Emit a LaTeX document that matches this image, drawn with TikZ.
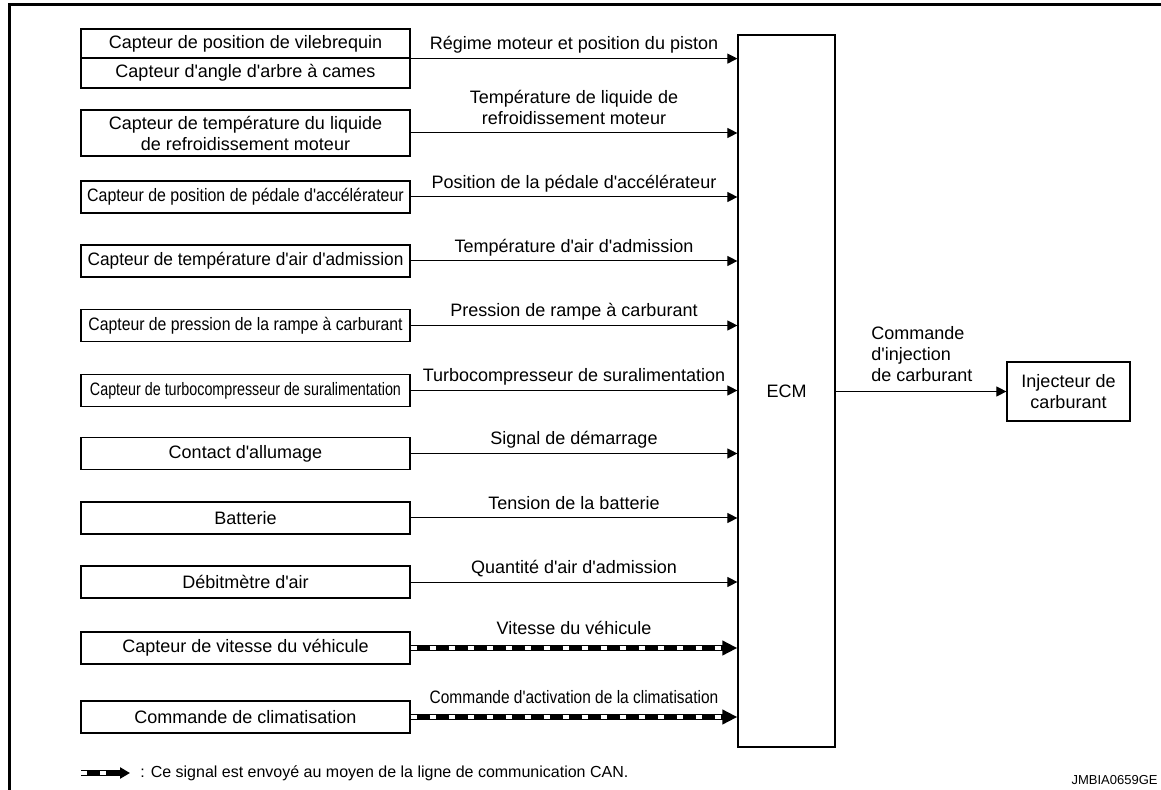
\documentclass[tikz,border=0pt]{standalone}
\usepackage{fontspec}
\setmainfont{Liberation Sans}[Ligatures=TeXOff]
\usepackage{graphicx}
\usepackage{tikz}
\usetikzlibrary{arrows.meta,positioning,calc}
\newcommand{\squeeze}[2]{\scalebox{#1}[1]{#2}}

\begin{document}
\begin{tikzpicture}[
  x=0.5pt, y=-0.5pt,
  font=\fontsize{9pt}{10.5pt}\selectfont,
  box/.style={draw, line width=0.6pt, align=center, minimum width=164.5pt, minimum height=16pt, inner sep=1pt},
  arr/.style={-{Triangle[length=5pt,width=5pt]}, line width=0.5pt},
  canbus/.style={-{Triangle[length=7.5pt,width=7pt]}, line width=3pt,
    postaction={draw, -, white, line width=1.6pt, dash pattern=on 3pt off 6.5pt, shorten >=8pt}},
  lbl/.style={above, pos=0.5, inner sep=2pt, text depth=0.22em, align=center}
]
\useasboundingbox (0,0) rectangle (1161,790);
\draw[line width=1.5pt] (1161,5) -| (9.5,790);

\node[draw, line width=0.6pt, minimum width=48.5pt, minimum height=356pt] (ecm) at (786.5,391) {ECM};
\node[draw, line width=0.6pt, align=center, minimum width=61.5pt, minimum height=29.5pt] (inj) at (1068.5,391.5) {Injecteur de\\carburant};

\node[box, minimum height=14.5pt] (ckp) at (245.5,43.5) {Capteur de position de vilebrequin};
\node[box, minimum height=15pt] (cmp) at (245.5,73) {Capteur d'angle d'arbre à cames};
\node[box, minimum height=23pt] (ect) at (245.5,133) {Capteur de température du liquide\\de refroidissement moteur};
\node[box] (app) at (245.5,197) {\squeeze{0.885}{Capteur de position de pédale d'accélérateur}};
\node[box] (iat) at (245.5,261) {\squeeze{0.96}{Capteur de température d'air d'admission}};
\node[box] (frp) at (245.5,325.5) {\squeeze{0.877}{Capteur de pression de la rampe à carburant}};
\node[box] (turbo) at (245.5,390.5) {\squeeze{0.795}{Capteur de turbocompresseur de suralimentation}};
\node[box] (ign) at (245.5,453.5) {Contact d'allumage};
\node[box] (batt) at (245.5,518) {Batterie};
\node[box] (maf) at (245.5,582) {Débitmètre d'air};
\node[box] (vss) at (245.5,648) {Capteur de vitesse du véhicule};
\node[box] (ac) at (245.5,717) {Commande de climatisation};

\draw[arr] (ckp.south east) -- (ckp.south east -| ecm.west) node[lbl] {Régime moteur et position du piston};
\draw[arr] (ect) -- (ect -| ecm.west) node[lbl] {Température de liquide de\\refroidissement moteur};
\draw[arr] (app) -- (app -| ecm.west) node[lbl] {Position de la pédale d'accélérateur};
\draw[arr] (iat) -- (iat -| ecm.west) node[lbl] {Température d'air d'admission};
\draw[arr] (frp) -- (frp -| ecm.west) node[lbl] {Pression de rampe à carburant};
\draw[arr] (turbo) -- (turbo -| ecm.west) node[lbl] {Turbocompresseur de suralimentation};
\draw[arr] (ign) -- (ign -| ecm.west) node[lbl] {Signal de démarrage};
\draw[arr] (batt) -- (batt -| ecm.west) node[lbl] {Tension de la batterie};
\draw[arr] (maf) -- (maf -| ecm.west) node[lbl] {Quantité d'air d'admission};
\draw[canbus] (vss) -- (vss -| ecm.west) node[lbl, inner sep=3pt] {Vitesse du véhicule};
\draw[canbus] (ac) -- (ac -| ecm.west) node[lbl, inner sep=3pt] {\squeeze{0.86}{Commande d'activation de la climatisation}};

\draw[arr] (ecm.east |- inj) -- (inj);
\node[anchor=north west, inner sep=0pt, align=left] (injlbl) at (871,326) {Commande\\d'injection\\de carburant};

\coordinate (lgA) at (81,773);
\coordinate (lgB) at (130,773);
\draw[canbus, -{Triangle[length=5pt,width=5.5pt]}] (lgA) -- (lgB);
\node[anchor=west, inner sep=0pt, font=\fontsize{8pt}{9pt}\selectfont] (lgtxt) at (140,773) {: Ce signal est envoyé au moyen de la ligne de communication CAN.};

\node[anchor=east, inner sep=0pt, font=\fontsize{6.5pt}{7.5pt}\selectfont] (ref) at (1158,780) {JMBIA0659GE};
\end{tikzpicture}
\end{document}
